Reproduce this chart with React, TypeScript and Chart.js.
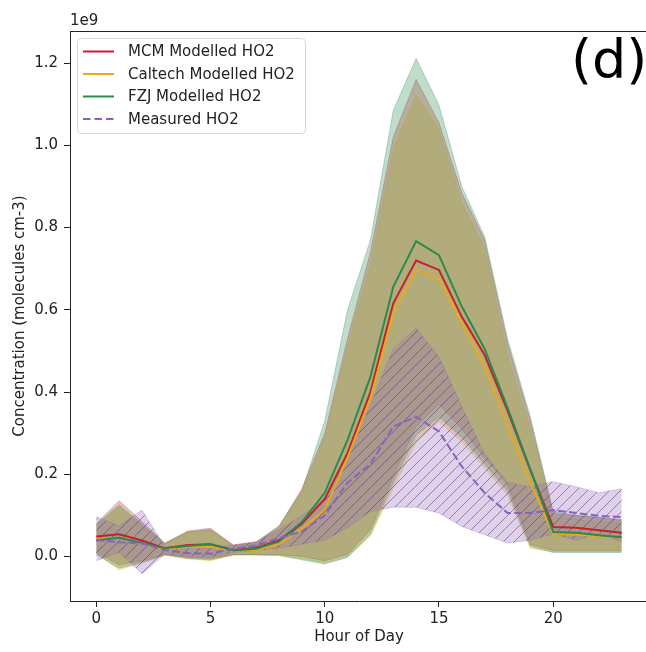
import React, { useEffect, useRef } from "react";
import { Chart, registerables } from "chart.js";

Chart.register(...registerables);

const hours = [0, 1, 2, 3, 4, 5, 6, 7, 8, 9, 10, 11, 12, 13, 14, 15, 16, 17, 18, 19, 20, 21, 22, 23];

// values in units of 1e9 molecules cm-3
const mcmLine = [0.049, 0.054, 0.039, 0.020, 0.028, 0.030, 0.016, 0.021, 0.040, 0.080, 0.140, 0.252, 0.400, 0.616, 0.720, 0.697, 0.583, 0.490, 0.355, 0.210, 0.072, 0.070, 0.064, 0.058];
const mcmUpper = [0.080, 0.136, 0.085, 0.033, 0.062, 0.069, 0.028, 0.036, 0.073, 0.165, 0.300, 0.530, 0.740, 1.020, 1.160, 1.055, 0.884, 0.770, 0.520, 0.330, 0.105, 0.100, 0.095, 0.090];
const mcmLower = [0.010, -0.020, -0.010, 0.005, -0.002, -0.005, 0.005, 0.005, 0.005, 0.000, -0.010, 0.005, 0.065, 0.195, 0.316, 0.370, 0.310, 0.240, 0.175, 0.030, 0.015, 0.015, 0.015, 0.015];

const caltechLine = [0.042, 0.045, 0.032, 0.018, 0.024, 0.024, 0.014, 0.016, 0.030, 0.068, 0.114, 0.240, 0.385, 0.592, 0.697, 0.674, 0.568, 0.462, 0.318, 0.180, 0.055, 0.053, 0.050, 0.046];
const caltechUpper = [0.075, 0.120, 0.075, 0.030, 0.058, 0.064, 0.025, 0.032, 0.068, 0.155, 0.290, 0.510, 0.710, 0.990, 1.122, 1.040, 0.860, 0.750, 0.490, 0.310, 0.095, 0.090, 0.085, 0.080];
const caltechLower = [0.008, -0.032, -0.016, 0.004, -0.006, -0.010, 0.004, 0.004, 0.002, -0.005, -0.015, 0.000, 0.050, 0.165, 0.280, 0.328, 0.280, 0.215, 0.150, 0.020, 0.012, 0.012, 0.012, 0.012];

const fzjLine = [0.040, 0.046, 0.033, 0.020, 0.026, 0.030, 0.015, 0.019, 0.037, 0.084, 0.155, 0.284, 0.437, 0.656, 0.767, 0.733, 0.608, 0.505, 0.362, 0.212, 0.060, 0.058, 0.052, 0.047];
const fzjUpper = [0.078, 0.125, 0.080, 0.032, 0.060, 0.066, 0.027, 0.034, 0.075, 0.160, 0.330, 0.600, 0.770, 1.085, 1.211, 1.098, 0.900, 0.778, 0.530, 0.340, 0.110, 0.100, 0.095, 0.088];
const fzjLower = [0.005, -0.028, -0.014, 0.004, -0.004, -0.008, 0.004, 0.004, 0.003, -0.008, -0.018, -0.002, 0.055, 0.180, 0.295, 0.340, 0.290, 0.225, 0.160, 0.025, 0.010, 0.010, 0.010, 0.010];

const measuredLine = [0.040, 0.035, 0.032, 0.016, 0.008, 0.007, 0.019, 0.027, 0.045, 0.061, 0.100, 0.180, 0.225, 0.316, 0.340, 0.304, 0.219, 0.155, 0.106, 0.106, 0.113, 0.106, 0.099, 0.096];
const measuredUpper = [0.097, 0.075, 0.113, 0.024, 0.022, 0.020, 0.028, 0.036, 0.065, 0.100, 0.140, 0.240, 0.370, 0.505, 0.556, 0.486, 0.365, 0.250, 0.180, 0.170, 0.182, 0.170, 0.155, 0.165];
const measuredLower = [-0.010, 0.010, -0.042, 0.006, 0.000, -0.002, 0.010, 0.015, 0.021, 0.030, 0.040, 0.070, 0.110, 0.120, 0.120, 0.106, 0.073, 0.053, 0.033, 0.040, 0.055, 0.040, 0.057, 0.036];

const yTicks = [0, 0.2, 0.4, 0.6, 0.8, 1.0, 1.2];
const xTicks = [0, 5, 10, 15, 20];

const legendLabels = ["MCM Modelled HO2", "Caltech Modelled HO2", "FZJ Modelled HO2", "Measured HO2"];
const panelLabel = "(d)";
const offsetLabel = "1e9";

const RED = "#c4212b";
const ORANGE = "#e8a91c";
const GREEN = "#2b8a4c";
const PURPLE = "#8a62bd";

const FONT = "'DejaVu Sans', sans-serif";

function pts(arr: number[]) {
  return hours.map((h, i) => ({ x: h, y: arr[i] }));
}

function makeHatch(): CanvasPattern | string {
  const s = 11;
  const c = document.createElement("canvas");
  c.width = s;
  c.height = s;
  const g = c.getContext("2d");
  if (!g) return "rgba(148,103,189,0.3)";
  g.fillStyle = "rgba(148,103,189,0.3)";
  g.fillRect(0, 0, s, s);
  g.strokeStyle = "rgba(80,60,105,0.55)";
  g.lineWidth = 1;
  g.beginPath();
  g.moveTo(0, s);
  g.lineTo(s, 0);
  g.moveTo(-s / 2, s / 2);
  g.lineTo(s / 2, -s / 2);
  g.moveTo(s / 2, s * 1.5);
  g.lineTo(s * 1.5, s / 2);
  g.stroke();
  const p = g.createPattern(c, "repeat");
  return p || "rgba(148,103,189,0.3)";
}

export default function App() {
  const ref = useRef<HTMLCanvasElement | null>(null);

  useEffect(() => {
    if (!ref.current) return;
    const hatch = makeHatch();

    const band = (data: number[], color: string, fillColor: any, fill: any) => ({
      data: pts(data),
      borderColor: color,
      borderWidth: 1,
      backgroundColor: fillColor,
      pointRadius: 0,
      tension: 0,
      fill,
    });

    const overlay = {
      id: "overlay",
      afterDraw(chart: any) {
        const ctx = chart.ctx;
        const a = chart.chartArea;
        ctx.save();
        // top frame
        ctx.strokeStyle = "#222";
        ctx.lineWidth = 1;
        ctx.beginPath();
        ctx.moveTo(a.left, a.top + 0.5);
        ctx.lineTo(a.right, a.top + 0.5);
        ctx.moveTo(a.right - 0.5, a.top);
        ctx.lineTo(a.right - 0.5, a.bottom);
        ctx.stroke();
        // offset text
        ctx.fillStyle = "#222";
        ctx.font = `15px ${FONT}`;
        ctx.textAlign = "left";
        ctx.textBaseline = "middle";
        ctx.fillText(offsetLabel, 70, 21);
        // panel label
        ctx.font = `54px ${FONT}`;
        ctx.textBaseline = "alphabetic";
        ctx.fillStyle = "#000";
        ctx.fillText(panelLabel, 571, 78);
        // legend
        const bx = 77.5, by = 38.5, bw = 228, bh = 95, r = 4;
        ctx.beginPath();
        ctx.moveTo(bx + r, by);
        ctx.lineTo(bx + bw - r, by);
        ctx.quadraticCurveTo(bx + bw, by, bx + bw, by + r);
        ctx.lineTo(bx + bw, by + bh - r);
        ctx.quadraticCurveTo(bx + bw, by + bh, bx + bw - r, by + bh);
        ctx.lineTo(bx + r, by + bh);
        ctx.quadraticCurveTo(bx, by + bh, bx, by + bh - r);
        ctx.lineTo(bx, by + r);
        ctx.quadraticCurveTo(bx, by, bx + r, by);
        ctx.closePath();
        ctx.fillStyle = "rgba(255,255,255,0.8)";
        ctx.fill();
        ctx.strokeStyle = "#d6d6d6";
        ctx.lineWidth = 1;
        ctx.stroke();
        const colors = [RED, ORANGE, GREEN, PURPLE];
        const ys = [51.5, 74, 96.5, 119];
        for (let i = 0; i < 4; i++) {
          ctx.beginPath();
          ctx.strokeStyle = colors[i];
          ctx.lineWidth = 2;
          ctx.setLineDash(i === 3 ? [7.5, 4] : []);
          ctx.moveTo(83, ys[i]);
          ctx.lineTo(114, ys[i]);
          ctx.stroke();
          ctx.setLineDash([]);
          ctx.fillStyle = "#222";
          ctx.font = `15px ${FONT}`;
          ctx.textBaseline = "middle";
          ctx.fillText(legendLabels[i], 128, ys[i] + 1);
        }
        ctx.restore();
      },
    };

    const chart = new Chart(ref.current, {
      type: "line",
      data: {
        datasets: [
          { data: pts(measuredLine), borderColor: PURPLE, borderWidth: 2, borderDash: [7.7, 3.3], pointRadius: 0, tension: 0, fill: false },
          { data: pts(fzjLine), borderColor: GREEN, borderWidth: 2, pointRadius: 0, tension: 0, fill: false },
          { data: pts(caltechLine), borderColor: ORANGE, borderWidth: 2, pointRadius: 0, tension: 0, fill: false },
          { data: pts(mcmLine), borderColor: RED, borderWidth: 2, pointRadius: 0, tension: 0, fill: false },
          band(measuredUpper, "rgba(148,103,189,0.3)", hatch, "+1"),
          band(measuredLower, "rgba(148,103,189,0.3)", "transparent", false),
          band(fzjUpper, "rgba(46,139,87,0.3)", "rgba(46,139,87,0.3)", "+1"),
          band(fzjLower, "rgba(46,139,87,0.3)", "transparent", false),
          band(caltechUpper, "rgba(230,168,23,0.3)", "rgba(230,168,23,0.3)", "+1"),
          band(caltechLower, "rgba(230,168,23,0.3)", "transparent", false),
          band(mcmUpper, "rgba(198,40,40,0.3)", "rgba(198,40,40,0.3)", "+1"),
          band(mcmLower, "rgba(198,40,40,0.3)", "transparent", false),
        ] as any,
      },
      options: {
        animation: false,
        responsive: false,
        devicePixelRatio: 1,
        layout: { padding: { top: 31, right: 12, left: 0, bottom: 0 } },
        plugins: { legend: { display: false }, tooltip: { enabled: false } },
        scales: {
          x: {
            type: "linear",
            min: -1.15,
            max: 24.15,
            afterBuildTicks: (s: any) => { s.ticks = xTicks.map((v) => ({ value: v })); },
            afterFit: (s: any) => { s.height = 51; },
            grid: { drawOnChartArea: false, drawTicks: true, tickLength: 6, tickColor: "#222" },
            border: { color: "#222", width: 1 },
            ticks: { color: "#222", font: { family: FONT, size: 15 }, padding: 3, maxRotation: 0, callback: (v: any) => String(v) },
            title: { display: true, text: "Hour of Day", color: "#222", font: { family: FONT, size: 15 }, padding: { top: 0, bottom: 6 } },
          },
          y: {
            type: "linear",
            min: -0.108,
            max: 1.278,
            afterBuildTicks: (s: any) => { s.ticks = yTicks.map((v) => ({ value: v })); },
            afterFit: (s: any) => { s.width = 70; },
            grid: { drawOnChartArea: false, drawTicks: true, tickLength: 6, tickColor: "#222" },
            border: { color: "#222", width: 1 },
            ticks: { color: "#222", font: { family: FONT, size: 15 }, padding: 6, callback: (v: any) => Number(v).toFixed(1) },
            title: { display: true, text: "Concentration (molecules cm-3)", color: "#222", font: { family: FONT, size: 15 }, padding: { top: 11, bottom: 0 } },
          },
        },
      } as any,
      plugins: [overlay],
    });
    return () => chart.destroy();
  }, []);

  return (
    <div style={{ position: "absolute", left: 0, top: 0, width: 646, height: 652, overflow: "hidden", background: "#fff" }}>
      <canvas ref={ref} width={660} height={652} style={{ display: "block", width: 660, height: 652 }} />
    </div>
  );
}
